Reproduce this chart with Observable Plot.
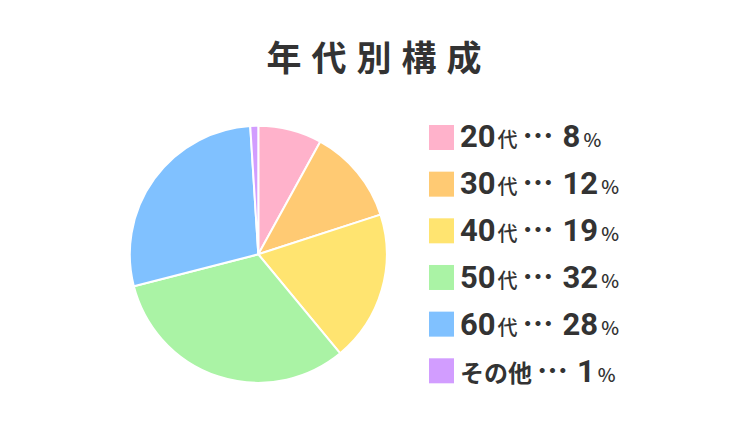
<!DOCTYPE html>
<html>
<head>
<meta charset="utf-8">
<script src="https://cdn.jsdelivr.net/npm/d3@7"></script>
<script src="https://cdn.jsdelivr.net/npm/@observablehq/plot@0.6"></script>
<style>
  html, body { margin: 0; padding: 0; background: #fff; }
  #wrap { position: relative; width: 750px; height: 422px; overflow: hidden; font-family: "Noto Sans CJK JP", "Noto Sans", sans-serif; color: #333; }
  #title { height: 100px; box-sizing: border-box; padding-top: 38px; padding-left: 8px; text-align: center; font-size: 35px; line-height: 1; font-weight: 700; letter-spacing: 10px; }
  #chart { position: relative; width: 750px; height: 322px; }
  #chart svg { display: block; }
  .row { position: absolute; left: 460px; font-weight: 700; line-height: 1; white-space: nowrap; font-size: 31px; }
  .row span { line-height: 1; }
  .big { font-size: 31px; font-family: Roboto, "Noto Sans CJK JP", sans-serif; font-weight: 700; }
  .jp { font-size: 24px; font-family: "Noto Sans CJK JP", sans-serif; font-weight: 700; }
  .suf { font-size: 20px; font-weight: 500; margin-left: 2px; }
  .dots { font-size: 31px; margin-left: 5px; margin-right: 9px; font-weight: 700; }
  .pct { font-size: 19px; font-weight: 500; margin-left: 3px; font-family: "Noto Sans CJK JP", sans-serif; }
</style>
</head>
<body>
<div id="wrap">
  <div id="title">年代別構成</div>
  <div id="chart"></div>
</div>
<script>
const categories = ["20代", "30代", "40代", "50代", "60代", "その他"];
const values = [8, 12, 19, 32, 28, 1];
const colors = ["#ffb2cb", "#ffca73", "#ffe470", "#aaf3a5", "#80c1ff", "#d29dff"];

const data = categories.map((c, i) => ({category: c, value: values[i], index: i}));

const W = 750, H = 322;
const cx = 258.3, cy = 154.3, R = 128.5;
const legendX = 429, legendY = 25, legendStep = 46.66, sw = 25;

const pieMark = (index, scales) => {
  const g = d3.create("svg:g");
  const arcs = d3.pie().sort(null).value(d => d.value)(data);
  const r = scales.x(cx + R) - scales.x(cx);
  const arc = d3.arc().innerRadius(0).outerRadius(r);
  g.attr("transform", `translate(${scales.x(cx)},${scales.y(cy)})`);
  g.selectAll("path").data(arcs).join("path")
    .attr("d", arc)
    .attr("fill", d => scales.color(d.data.category))
    .attr("stroke", "#fff")
    .attr("stroke-width", 2)
    .attr("stroke-linejoin", "round");
  return g.node();
};

const plot = Plot.plot({
  width: W, height: H, margin: 0,
  x: {domain: [0, W], range: [0, W], axis: null},
  y: {domain: [0, H], range: [0, H], axis: null},
  color: {domain: categories, range: colors},
  style: {background: "transparent"},
  marks: [
    pieMark,
    Plot.rect(data, {
      x1: d => legendX, x2: d => legendX + sw,
      y1: d => legendY + d.index * legendStep, y2: d => legendY + d.index * legendStep + sw,
      fill: "category"
    })
  ]
});
const chart = document.getElementById("chart");
chart.appendChild(plot);

// HTML legend text
data.forEach(d => {
  const m = d.category.match(/^(\d+)(代)$/);
  const row = document.createElement("div");
  row.className = "row";
  const baseline = 47.3 + d.index * 46.9; // relative to chart top
  row.style.top = (baseline - 29) + "px";
  if (m) {
    row.innerHTML = `<span class="big">${m[1]}</span><span class="suf">${m[2]}</span>`;
  } else {
    row.innerHTML = `<span class="jp">${d.category}</span>`;
  }
  row.innerHTML += `<span class="dots">…</span><span class="big">${d.value}</span><span class="pct">%</span>`;
  chart.appendChild(row);
});
</script>
</body>
</html>
